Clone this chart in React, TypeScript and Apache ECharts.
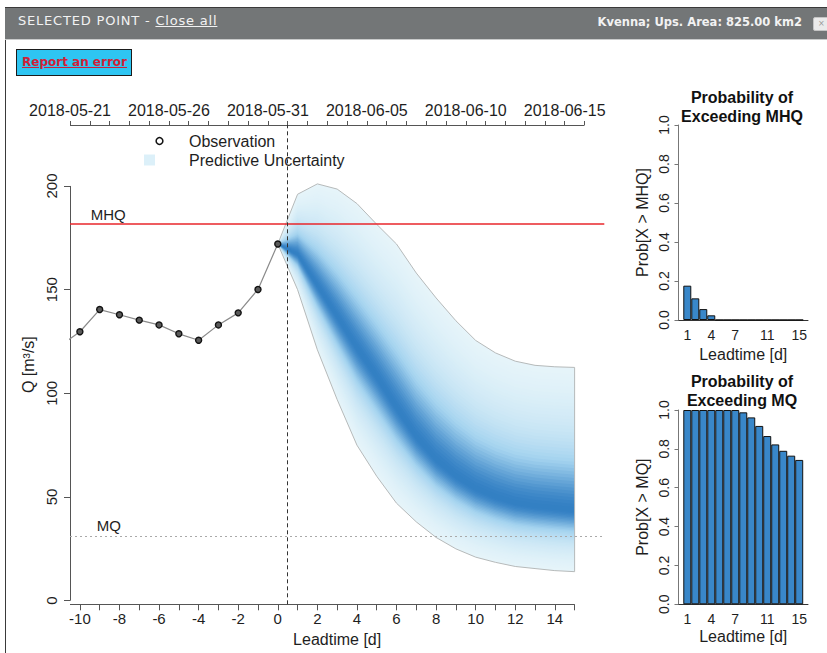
import React, { useEffect, useRef } from "react";
import * as echarts from "echarts";

// ---------- data ----------
const OBS_LEADS = [-11, -10, -9, -8, -7, -6, -5, -4, -3, -2, -1, 0];
const OBS_Q = [122.9, 129.7, 140.4, 137.9, 135.3, 133.0, 128.7, 125.6, 133.0, 138.8, 150.1, 172.0];

const FC_LEADS = [0, 1, 2, 3, 4, 5, 6, 7, 8, 9, 10, 11, 12, 13, 14, 15];
const FC_LOWER = [172, 150, 121, 97, 75, 60, 47, 38, 30.5, 25, 21, 18.5, 16.5, 15.5, 14.5, 14];
const FC_MEDIAN = [172, 167, 152, 137, 122, 108, 93, 79, 68, 60, 54, 50, 47, 45.5, 44.5, 43.5];
const FC_UPPER = [172, 196, 201, 198.5, 191.5, 181.5, 172, 158, 146, 135, 125.5, 119.5, 115.5, 113.5, 112.8, 112.5];

const MHQ = 181.8;
const MQ = 31.3;
const FORECAST_START = 0.5;

const LEAD_TICKS = [-10, -9, -8, -7, -6, -5, -4, -3, -2, -1, 0, 1, 2, 3, 4, 5, 6, 7, 8, 9, 10, 11, 12, 13, 14, 15];
const LEAD_LABELS = [-10, -8, -6, -4, -2, 0, 2, 4, 6, 8, 10, 12, 14];
const Q_TICKS = [0, 50, 100, 150, 200];

const DATE_TICK_LEADS = [-10.5, -9.5, -8.5, -7.5, -6.5, -5.5, -4.5, -3.5, -2.5, -1.5, -0.5, 0.5, 1.5, 2.5, 3.5, 4.5, 5.5, 6.5, 7.5, 8.5, 9.5, 10.5, 11.5, 12.5, 13.5, 14.5, 15.5];
const DATE_LABEL_LEADS = [-10.5, -5.5, -0.5, 4.5, 9.5, 14.5];
const DATE_LABELS = ["2018-05-21", "2018-05-26", "2018-05-31", "2018-06-05", "2018-06-10", "2018-06-15"];

const LEAD_DAYS = [1, 2, 3, 4, 5, 6, 7, 8, 9, 10, 11, 12, 13, 14, 15];
const BAR_LABEL_DAYS = [1, 4, 7, 11, 15];
const PROB_MHQ = [0.176, 0.111, 0.056, 0.024, 0, 0, 0, 0, 0, 0, 0, 0, 0, 0, 0];
const PROB_MQ = [1, 1, 1, 1, 1, 1, 1, 0.988, 0.962, 0.918, 0.866, 0.823, 0.79, 0.765, 0.743];

// ---------- styling helpers ----------
const FONT = "'Liberation Sans', Arial, Helvetica, sans-serif";
const TXT = "#1e1e1e";
const AX = "#555";
const Y_MIN = -1.74;
const Y_MAX = 229.4;
const X_MIN = -10.5;
const X_MAX = 16.5;
const LEVELS = 44;

const EDGE = [239, 249, 251];
const MID = [164, 211, 239];
const CORE = [50, 127, 195];

function mix(a: number[], b: number[], t: number) {
  const c = a.map((v, i) => Math.round(v + (b[i] - v) * t));
  return `rgb(${c[0]},${c[1]},${c[2]})`;
}
function fanColor(f: number) {
  const t = 0.55 * Math.exp(-0.5 * Math.pow(f / 0.22, 2)) + 0.45 * Math.exp(-0.5 * Math.pow(f / 0.5, 2));
  return t < 0.5 ? mix(EDGE, MID, t / 0.5) : mix(MID, CORE, (t - 0.5) / 0.5);
}

function buildOption(): any {
  const fanItems = FC_LEADS.map((l, i) => [l, FC_LOWER[i], FC_MEDIAN[i], FC_UPPER[i]]);

  const renderFan = (params: any, api: any) => {
    if (params.dataIndex !== 0) return null;
    const children: any[] = [];
    for (let k = 0; k < LEVELS; k++) {
      const f = 1 - k / LEVELS;
      const pts: number[][] = [];
      for (let i = 0; i < FC_LEADS.length; i++) {
        pts.push(api.coord([FC_LEADS[i], FC_MEDIAN[i] + f * (FC_UPPER[i] - FC_MEDIAN[i])]));
      }
      for (let i = FC_LEADS.length - 1; i >= 0; i--) {
        pts.push(api.coord([FC_LEADS[i], FC_MEDIAN[i] - f * (FC_MEDIAN[i] - FC_LOWER[i])]));
      }
      children.push({ type: "polygon", silent: true, shape: { points: pts }, style: { fill: fanColor(f) } });
    }
    const outline: number[][] = [];
    for (let i = 0; i < FC_LEADS.length; i++) outline.push(api.coord([FC_LEADS[i], FC_LOWER[i]]));
    for (let i = FC_LEADS.length - 1; i >= 0; i--) outline.push(api.coord([FC_LEADS[i], FC_UPPER[i]]));
    children.push({
      type: "polyline",
      silent: true,
      shape: { points: outline },
      style: { stroke: "#b6baba", lineWidth: 1, fill: "none" },
    });
    return { type: "group", children };
  };

  const barLabelPos = BAR_LABEL_DAYS.map((d) => d - 0.5);

  const barXAxis = (gridIndex: number, nameGap: number) => ({
    type: "value",
    gridIndex,
    min: -0.6,
    max: 15.6,
    axisLine: { show: true, onZero: false, lineStyle: { color: "#333", width: 1 } },
    axisTick: { show: false },
    splitLine: { show: false },
    axisLabel: {
      customValues: barLabelPos,
      formatter: (v: number) => String(Math.round(v + 0.5)),
      fontSize: 14,
      color: TXT,
      margin: 8,
      fontFamily: FONT,
    },
    name: "Leadtime [d]",
    nameLocation: "middle",
    nameGap,
    nameTextStyle: { fontSize: 16, color: TXT, fontFamily: FONT },
  });

  const barYAxis = (gridIndex: number, name: string) => ({
    type: "value",
    gridIndex,
    min: 0,
    max: 1,
    interval: 0.2,
    axisLine: { show: true, onZero: false, lineStyle: { color: "#777", width: 1 } },
    axisTick: { show: true, length: 4, lineStyle: { color: "#777" } },
    splitLine: { show: false },
    axisLabel: {
      rotate: 90,
      formatter: (v: number) => v.toFixed(1),
      fontSize: 14,
      color: TXT,
      margin: 8,
      fontFamily: FONT,
    },
    name,
    nameLocation: "middle",
    nameGap: 28.5,
    nameRotate: 90,
    nameTextStyle: { fontSize: 16, color: TXT, fontFamily: FONT },
  });

  const barSeries = (name: string, xi: number, yi: number, vals: number[]) => ({
    type: "bar",
    name,
    xAxisIndex: xi,
    yAxisIndex: yi,
    data: LEAD_DAYS.map((d, i) => [d - 0.5, vals[i]]),
    barWidth: 8,
    itemStyle: { color: "#3987c9", borderColor: "#111", borderWidth: 1 },
    silent: true,
  });

  return {
    animation: false,
    backgroundColor: "transparent",
    textStyle: { fontFamily: FONT },
    grid: [
      { left: 70, top: 125, width: 534.3, height: 479.3 },
      { left: 678.5, top: 125, width: 129.5, height: 195 },
      { left: 678.5, top: 410, width: 129.5, height: 194.3 },
    ],
    xAxis: [
      {
        type: "value",
        gridIndex: 0,
        min: X_MIN,
        max: X_MAX,
        axisLine: { show: false, onZero: false },
        splitLine: { show: false },
        axisTick: { show: true, customValues: LEAD_TICKS, length: 6, lineStyle: { color: AX } },
        axisLabel: { customValues: LEAD_LABELS, fontSize: 15, color: TXT, margin: 7, fontFamily: FONT },
        name: "Leadtime [d]",
        nameLocation: "middle",
        nameGap: 23,
        nameTextStyle: { fontSize: 16, color: TXT, fontFamily: FONT },
      },
      {
        type: "value",
        gridIndex: 0,
        position: "top",
        min: X_MIN,
        max: X_MAX,
        axisLine: { show: false, onZero: false },
        splitLine: { show: false },
        axisTick: { show: true, customValues: DATE_TICK_LEADS, length: 4, lineStyle: { color: AX } },
        axisLabel: {
          customValues: DATE_LABEL_LEADS,
          formatter: (v: number) => {
            const idx = DATE_LABEL_LEADS.findIndex((d) => Math.abs(d - v) < 1e-6);
            return idx >= 0 ? DATE_LABELS[idx] : "";
          },
          fontSize: 16,
          color: TXT,
          margin: 7,
          fontFamily: FONT,
        },
      },
      barXAxis(1, 26),
      barXAxis(2, 24.4),
    ],
    yAxis: [
      {
        type: "value",
        gridIndex: 0,
        min: Y_MIN,
        max: Y_MAX,
        axisLine: { show: false, onZero: false },
        splitLine: { show: false },
        axisTick: { show: true, customValues: Q_TICKS, length: 6, lineStyle: { color: AX } },
        axisLabel: { customValues: Q_TICKS, rotate: 90, fontSize: 15, color: TXT, margin: 11, fontFamily: FONT },
        name: "Q [m³/s]",
        nameLocation: "middle",
        nameGap: 30,
        nameRotate: 90,
        nameTextStyle: { fontSize: 16, color: TXT, fontFamily: FONT },
      },
      barYAxis(1, "Prob[X > MHQ]"),
      barYAxis(2, "Prob[X > MQ]"),
    ],
    series: [
      {
        type: "custom",
        name: "Predictive Uncertainty",
        xAxisIndex: 0,
        yAxisIndex: 0,
        data: fanItems,
        encode: { x: 0, y: [1, 2, 3] },
        renderItem: renderFan,
        silent: true,
        z: 1,
      },
      {
        type: "line",
        name: "reference",
        xAxisIndex: 0,
        yAxisIndex: 0,
        data: [],
        silent: true,
        z: 3,
        markLine: {
          silent: true,
          symbol: "none",
          animation: false,
          label: { show: false },
          data: [
            [
              { coord: [X_MIN, 0], lineStyle: { color: AX, width: 1, type: "solid" } },
              { coord: [X_MIN, 200] },
            ],
            [
              { coord: [X_MIN, Y_MIN], lineStyle: { color: AX, width: 1, type: "solid" } },
              { coord: [15, Y_MIN] },
            ],
            [
              { coord: [-10.5, Y_MAX], lineStyle: { color: AX, width: 1, type: "solid" } },
              { coord: [15.5, Y_MAX] },
            ],
            { yAxis: MHQ, lineStyle: { color: "#e8262b", width: 1.6, type: "solid" } },
            { yAxis: MQ, lineStyle: { color: "#a9a9a9", width: 1.2, type: [2, 3] } },
            { xAxis: FORECAST_START, lineStyle: { color: "#333", width: 1, type: [4, 3] } },
          ],
        },
        markPoint: {
          silent: true,
          animation: false,
          symbol: "circle",
          symbolSize: 0,
          data: [
            {
              coord: [-9.45, 186.3],
              label: { show: true, formatter: "MHQ", position: "right", distance: 0, fontSize: 15, color: TXT, fontFamily: FONT },
            },
            {
              coord: [-9.15, 36.2],
              label: { show: true, formatter: "MQ", position: "right", distance: 0, fontSize: 15, color: TXT, fontFamily: FONT },
            },
          ],
        },
      },
      {
        type: "line",
        name: "Observation",
        xAxisIndex: 0,
        yAxisIndex: 0,
        data: OBS_LEADS.map((l, i) => [l, OBS_Q[i]]),
        clip: true,
        symbol: "circle",
        symbolSize: 6,
        showSymbol: true,
        lineStyle: { color: "#8a8a8a", width: 1.2 },
        itemStyle: { color: "#5a5a5a", borderColor: "#111", borderWidth: 1.4 },
        silent: true,
        z: 5,
      },
      barSeries("P(X>MHQ)", 2, 1, PROB_MHQ),
      barSeries("P(X>MQ)", 3, 2, PROB_MQ),
    ],
    graphic: [
      { type: "circle", silent: true, shape: { cx: 159.5, cy: 141, r: 3.4 }, style: { fill: "none", stroke: "#111", lineWidth: 1.5 } },
      { type: "text", silent: true, x: 189, y: 141, style: { text: "Observation", fontSize: 16, fontFamily: FONT, fill: TXT, verticalAlign: "middle" } },
      { type: "rect", silent: true, shape: { x: 144, y: 154.5, width: 11, height: 11 }, style: { fill: "#dcf0f9" } },
      { type: "text", silent: true, x: 189, y: 160, style: { text: "Predictive Uncertainty", fontSize: 16, fontFamily: FONT, fill: TXT, verticalAlign: "middle" } },
      {
        type: "text", silent: true, x: 742, y: 106.5,
        style: { text: "Probability of\nExceeding MHQ", fontSize: 16, fontWeight: "bold", lineHeight: 19, fontFamily: FONT, fill: "#111", align: "center", verticalAlign: "middle" },
      },
      {
        type: "text", silent: true, x: 742, y: 390.5,
        style: { text: "Probability of\nExceeding MQ", fontSize: 16, fontWeight: "bold", lineHeight: 19, fontFamily: FONT, fill: "#111", align: "center", verticalAlign: "middle" },
      },
    ],
  };
}

const HDR_FONT = "'DejaVu Sans', Verdana, sans-serif";

export default function App() {
  const ref = useRef<HTMLDivElement>(null);
  useEffect(() => {
    if (!ref.current) return;
    const chart = echarts.init(ref.current, null, { renderer: "svg" });
    chart.setOption(buildOption());
    return () => chart.dispose();
  }, []);

  return (
    <div style={{ position: "absolute", left: 0, top: 0, width: 827, height: 653, background: "#fff", overflow: "hidden" }}>
      <div ref={ref} style={{ position: "absolute", left: 0, top: 0, width: 827, height: 653 }} />
      {/* left frame border */}
      <div style={{ position: "absolute", left: 5, top: 7, width: 1, height: 646, background: "#3a3a3a" }} />
      {/* header */}
      <div
        style={{
          position: "absolute", left: 5, top: 7, width: 822, height: 33, boxSizing: "border-box",
          background: "#737677", borderTop: "1px solid #3a3a3a", borderBottom: "1px solid #c9cbcb",
        }}
      />
      <div
        style={{
          position: "absolute", left: 18, top: 13, height: 16, lineHeight: "16px", fontSize: 13,
          letterSpacing: "0.8px", fontFamily: HDR_FONT, color: "#f2f2f2", whiteSpace: "nowrap",
        }}
      >
        SELECTED POINT - <span style={{ textDecoration: "underline" }}>Close all</span>
      </div>
      <div
        style={{
          position: "absolute", right: 25, top: 14, height: 16, lineHeight: "16px", fontSize: 11.5, fontWeight: "bold",
          fontFamily: HDR_FONT, color: "#f2f2f2", whiteSpace: "nowrap",
        }}
      >
        Kvenna; Ups. Area: 825.00 km2
      </div>
      <div
        style={{
          position: "absolute", left: 813, top: 17, width: 18, height: 14, boxSizing: "border-box",
          background: "#ebebeb", border: "1px solid #c4c4c4", borderRadius: 2, fontSize: 8, color: "#999",
          lineHeight: "12px", paddingLeft: 4, fontFamily: HDR_FONT,
        }}
      >
        ×
      </div>
      {/* report button */}
      <div
        style={{
          position: "absolute", left: 16, top: 49, width: 116, height: 27, boxSizing: "border-box",
          background: "#2ec5f2", border: "1px solid #1b1b1b", paddingLeft: 5,
          fontFamily: HDR_FONT, fontSize: 12, fontWeight: "bold",
          color: "#cf1f38", lineHeight: "25px", textDecoration: "underline", whiteSpace: "nowrap",
        }}
      >
        Report an error
      </div>
    </div>
  );
}
